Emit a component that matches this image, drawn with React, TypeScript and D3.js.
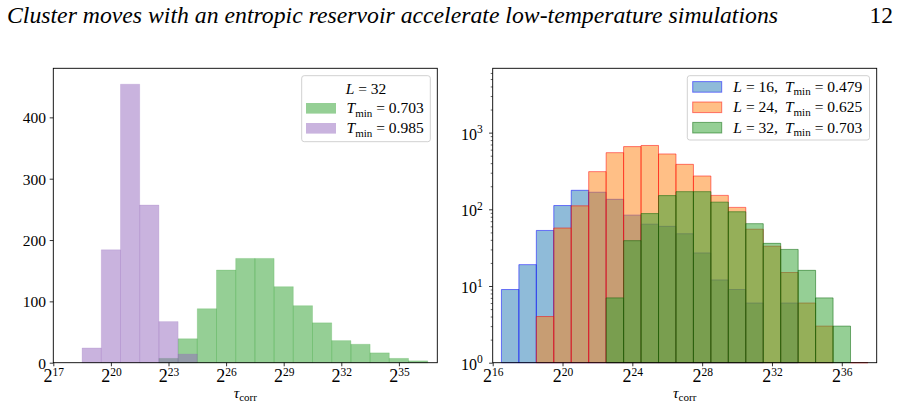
import { useEffect, useRef } from 'react';
import * as d3 from 'd3';

const headerTitle = 'Cluster moves with an entropic reservoir accelerate low-temperature simulations';
const pageNumber = '12';

// left panel: L = 32 at two minimum temperatures, counts per log2 bin of width 1
const leftLegendL = '32';
const leftTminLabels = ['0.703', '0.985'];
const leftBinStarts = [22.5, 18.5];
const countsTmin0703 = [7, 39, 88, 151, 170, 170, 124, 93, 65, 36, 30, 16, 7, 3];
const countsTmin0985 = [24, 184, 454, 257, 67, 14];
const leftXTicks = [17, 20, 23, 26, 29, 32, 35];
const leftYTicks = [0, 100, 200, 300, 400];
const leftXLim = [17, 37];
const leftYLim = [0, 480];

// right panel: three lattice sizes on a log count axis
const rightLLabels = ['16', '24', '32'];
const rightTminLabels = ['0.479', '0.625', '0.703'];
const rightBinStarts = [16.5, 18.5, 22.5];
const countsL16 = [9, 19, 53, 112, 177, 167, 135, 84, 64, 60, 48, 27, 12, 9, 6, 0, 6];
const countsL24 = [4, 57, 111, 310, 548, 657, 680, 527, 386, 272, 152, 106, 55, 33, 15, 6, 3, 0, 1];
const countsL32 = countsTmin0703;
const rightXTicks = [16, 20, 24, 28, 32, 36];
const rightYExponents = [0, 1, 2, 3];
const rightXLim = [16, 38];
const rightYLim = [1, 6900];

const FONT = '"Liberation Serif", "Times New Roman", serif';
const BLUE = '#1f77b4';
const ORANGE = '#ff7f0e';
const GREEN = '#2ca02c';
const PURPLE = '#9467bd';

const TOP = 68.3;
const BOTTOM = 362.7;
const TICK_FS = 15.5;

type G = d3.Selection<SVGGElement, unknown, null, undefined>;

function drawHist(
  g: G, x: any, y: any, base: number, start: number, counts: number[],
  fill: string, stroke: string, strokeOpacity: number, sw: number,
) {
  const bins = counts.map((c, i) => ({ a: start + i, c })).filter(d => d.c > 0);
  g.append('g')
    .selectAll('path')
    .data(bins)
    .join('path')
    .attr('d', d => `M${x(d.a)},${y(base)}V${y(d.c)}H${x(d.a + 1)}V${y(base)}Z`)
    .attr('fill', fill)
    .attr('fill-opacity', 0.5)
    .attr('stroke', stroke)
    .attr('stroke-opacity', strokeOpacity)
    .attr('stroke-width', sw);
}

function bottomAxis(g: G, x: any, ticks: number[]) {
  const ax = g.append('g')
    .attr('transform', `translate(0,${BOTTOM})`)
    .call(d3.axisBottom(x).tickValues(ticks).tickSize(3.6));
  ax.select('.domain').remove();
  ax.attr('font-family', FONT).attr('font-size', TICK_FS);
  ax.selectAll('line').attr('stroke', '#000').attr('stroke-width', 0.8);
  ax.selectAll('text').each(function (d: any) {
    const t = d3.select(this as SVGTextElement);
    t.text(null).attr('y', 19).attr('dy', null).attr('fill', '#000');
    t.append('tspan').attr('font-size', 18).text('2');
    t.append('tspan').attr('dy', -6).attr('font-size', 11.5).text(String(d));
  });
}

function axisLabel(g: G, cx: number) {
  const t = g.append('text')
    .attr('x', cx).attr('y', 398)
    .attr('text-anchor', 'middle')
    .attr('font-family', FONT)
    .attr('font-size', TICK_FS);
  t.append('tspan').attr('font-style', 'italic').text('τ');
  t.append('tspan').attr('dy', 3).attr('font-size', 11).text('corr');
}

function frame(g: G, x0: number, x1: number) {
  g.append('rect')
    .attr('x', x0).attr('y', TOP)
    .attr('width', x1 - x0).attr('height', BOTTOM - TOP)
    .attr('fill', 'none')
    .attr('stroke', '#000')
    .attr('stroke-width', 0.9);
}

function legendBox(g: G, x0: number, y0: number, x1: number, y1: number) {
  g.append('rect')
    .attr('x', x0).attr('y', y0)
    .attr('width', x1 - x0).attr('height', y1 - y0)
    .attr('rx', 2.5)
    .attr('fill', '#fff').attr('fill-opacity', 0.8)
    .attr('stroke', '#cccccc').attr('stroke-width', 0.9);
}

function tminText(t: any, value: string, lead = 0) {
  t.append('tspan').attr('dx', lead).attr('font-style', 'italic').text('T');
  t.append('tspan').attr('dy', 3.5).attr('font-size', 11).text('min');
  t.append('tspan').attr('dy', -3.5).attr('dx', 4).text('= ' + value);
}

const App = () => {
  const ref = useRef<SVGSVGElement>(null);

  useEffect(() => {
    const svg = d3.select(ref.current);
    svg.selectAll('*').remove();
    const root = svg.append('g') as unknown as G;

    // running header
    root.append('text')
      .attr('x', 7).attr('y', 23)
      .attr('font-family', FONT).attr('font-style', 'italic').attr('font-size', 23.5)
      .attr('textLength', 771).attr('lengthAdjust', 'spacingAndGlyphs')
      .text(headerTitle);
    root.append('text')
      .attr('x', 893).attr('y', 23)
      .attr('text-anchor', 'end')
      .attr('font-family', FONT).attr('font-size', 23.5)
      .text(pageNumber);

    // ---- left panel: linear counts ----
    const lx0 = 53.3, lx1 = 437.3;
    const xl = d3.scaleLinear().domain(leftXLim).range([lx0, lx1]);
    const yl = d3.scaleLinear().domain(leftYLim).range([BOTTOM, TOP]);
    const left = root.append('g') as unknown as G;

    drawHist(left, xl, yl, 0, leftBinStarts[0], countsTmin0703, GREEN, GREEN, 0.25, 0.8);
    drawHist(left, xl, yl, 0, leftBinStarts[1], countsTmin0985, PURPLE, PURPLE, 0.25, 0.8);

    const lya = left.append('g')
      .attr('transform', `translate(${lx0},0)`)
      .call(d3.axisLeft(yl).tickValues(leftYTicks).tickSize(3.6).tickPadding(3.8));
    lya.select('.domain').remove();
    lya.attr('font-family', FONT).attr('font-size', TICK_FS);
    lya.selectAll('line').attr('stroke', '#000').attr('stroke-width', 0.8);
    lya.selectAll('text').attr('fill', '#000').attr('dy', '0.36em');

    bottomAxis(left, xl, leftXTicks);
    frame(left, lx0, lx1);
    axisLabel(left, (lx0 + lx1) / 2);

    // legend with title
    const llx0 = 301.7, llx1 = lx1 - 7;
    legendBox(left, llx0, 75.7, llx1, 141.7);
    const lt = left.append('text')
      .attr('x', (llx0 + llx1) / 2).attr('y', 93.5)
      .attr('text-anchor', 'middle')
      .attr('font-family', FONT).attr('font-size', TICK_FS);
    lt.append('tspan').attr('font-style', 'italic').text('L');
    lt.append('tspan').attr('dx', 4).text('= ' + leftLegendL);
    const leftColors = [GREEN, PURPLE];
    leftTminLabels.forEach((v, i) => {
      const cy = 108.3 + i * 20;
      left.append('rect')
        .attr('x', 306).attr('y', cy - 5.3)
        .attr('width', 30).attr('height', 10.6)
        .attr('fill', leftColors[i]).attr('fill-opacity', 0.5);
      const t = left.append('text')
        .attr('x', 346.5).attr('y', cy + 5)
        .attr('font-family', FONT).attr('font-size', TICK_FS);
      tminText(t, v);
    });

    // ---- right panel: log counts ----
    const rx0 = 492.7, rx1 = 876.7;
    const xr = d3.scaleLinear().domain(rightXLim).range([rx0, rx1]);
    const yr = d3.scaleLog().domain(rightYLim).range([BOTTOM, TOP]);
    const right = root.append('g') as unknown as G;

    drawHist(right, xr, yr, 1, rightBinStarts[0], countsL16, BLUE, 'blue', 0.5, 1);
    drawHist(right, xr, yr, 1, rightBinStarts[1], countsL24, ORANGE, 'red', 0.5, 1);
    drawHist(right, xr, yr, 1, rightBinStarts[2], countsL32, GREEN, 'darkgreen', 0.5, 1);

    const minor: number[] = [];
    rightYExponents.forEach(e => {
      for (let m = 2; m <= 9; m++) {
        const v = m * Math.pow(10, e);
        if (v <= rightYLim[1]) minor.push(v);
      }
    });
    const rmin = right.append('g')
      .attr('transform', `translate(${rx0},0)`)
      .call(d3.axisLeft(yr).tickValues(minor).tickSize(2).tickFormat(() => ''));
    rmin.select('.domain').remove();
    rmin.selectAll('line').attr('stroke', '#000').attr('stroke-width', 0.6);

    const rya = right.append('g')
      .attr('transform', `translate(${rx0},0)`)
      .call(d3.axisLeft(yr).tickValues(rightYExponents.map(e => Math.pow(10, e))).tickSize(3.6));
    rya.select('.domain').remove();
    rya.attr('font-family', FONT).attr('font-size', TICK_FS);
    rya.selectAll('line').attr('stroke', '#000').attr('stroke-width', 0.8);
    rya.selectAll('text').each(function (d: any) {
      const t = d3.select(this as SVGTextElement);
      t.text(null).attr('x', -10).attr('y', 6.5).attr('dy', null).attr('fill', '#000');
      t.append('tspan').attr('font-size', 16).text('10');
      t.append('tspan').attr('dy', -6.5).attr('font-size', 11.5).text(String(Math.round(Math.log10(d))));
    });

    bottomAxis(right, xr, rightXTicks);
    frame(right, rx0, rx1);
    axisLabel(right, (rx0 + rx1) / 2);

    const rlx0 = 687.3, rlx1 = rx1 - 7.2;
    legendBox(right, rlx0, 75.7, rlx1, 140);
    const rightFills = [BLUE, ORANGE, GREEN];
    const rightEdges = ['blue', 'red', 'darkgreen'];
    rightLLabels.forEach((l, i) => {
      const cy = 86.9 + i * 20.4;
      right.append('rect')
        .attr('x', 692.7).attr('y', cy - 5.3)
        .attr('width', 29).attr('height', 10.6)
        .attr('fill', rightFills[i]).attr('fill-opacity', 0.5)
        .attr('stroke', rightEdges[i]).attr('stroke-opacity', 0.5).attr('stroke-width', 1);
      const t = right.append('text')
        .attr('x', 733.3).attr('y', cy + 5)
        .attr('font-family', FONT).attr('font-size', TICK_FS);
      t.append('tspan').attr('font-style', 'italic').text('L');
      t.append('tspan').attr('dx', 4).text('= ' + l + ',');
      tminText(t, rightTminLabels[i], 7);
    });
  }, []);

  return (
    <svg
      ref={ref}
      width={900}
      height={410}
      style={{ position: 'absolute', left: 0, top: 0, background: '#fff' }}
    />
  );
};

export default App;
